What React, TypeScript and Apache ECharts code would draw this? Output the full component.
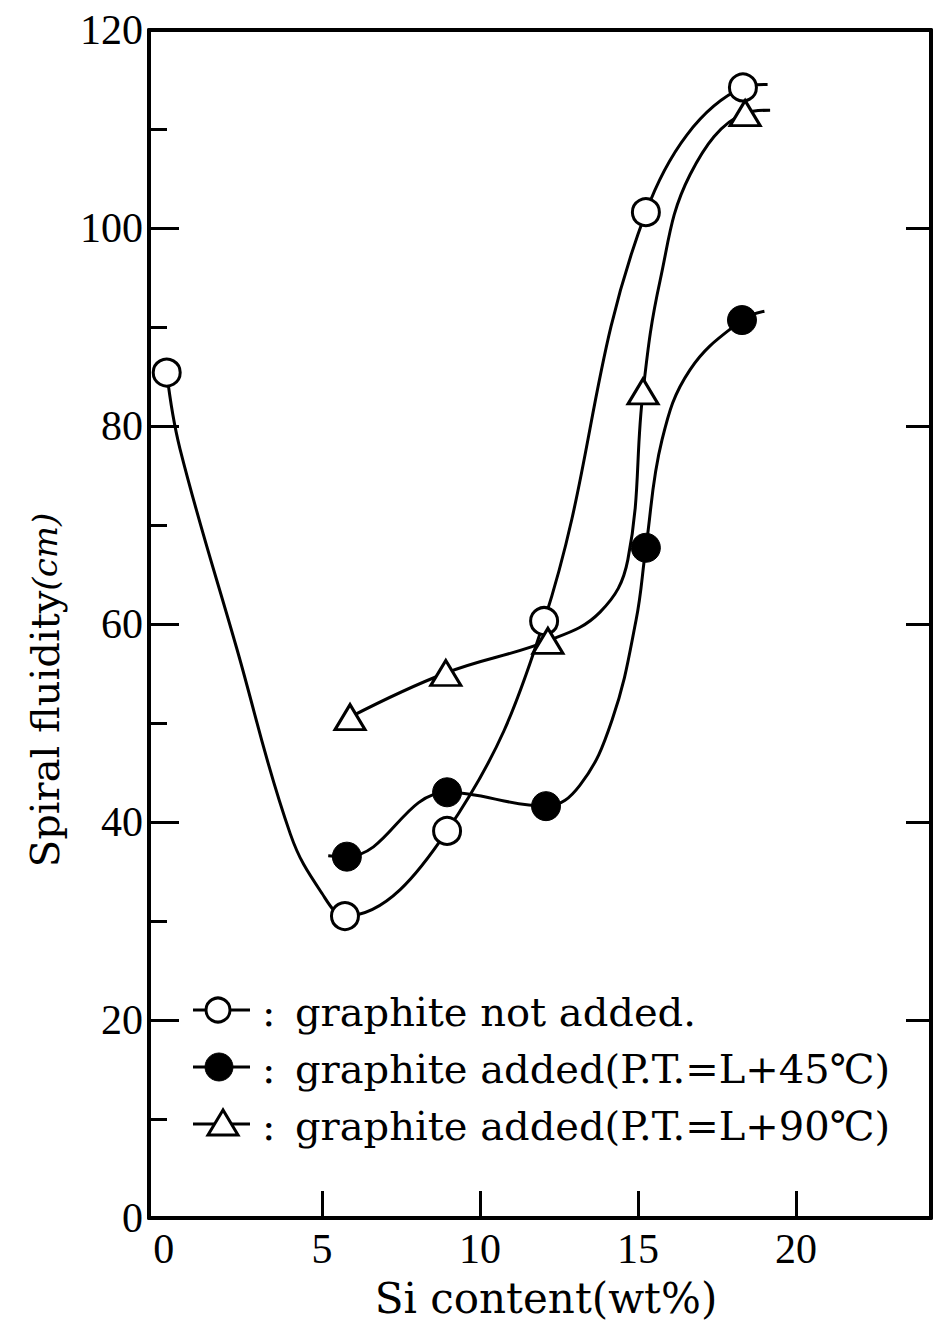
import React, { useEffect, useRef } from "react";
import * as echarts from "echarts";

// ---- data ----
// measured points (Si content wt%, spiral fluidity cm)
const openSi = [0.09, 5.73, 8.96, 12.03, 15.25, 18.32];
const openFluidity = [85.4, 30.5, 39.1, 60.3, 101.6, 114.2];
const filledSi = [5.79, 8.96, 12.09, 15.25, 18.29];
const filledFluidity = [36.5, 43.0, 41.6, 67.7, 90.7];
const triSi = [5.89, 8.92, 12.15, 15.16, 18.39];
const triFluidity = [50.6, 55.05, 58.3, 83.5, 111.6];

const openCurveSi = [0.09, 0.51, 2.3, 4.0, 5.0, 5.73, 8.96, 12.03, 15.25, 18.32, 19.1];
const openCurveFl = [85.4, 77.7, 57.6, 38.8, 32.8, 30.5, 39.1, 60.3, 101.6, 114.2, 114.5];
const filledCurveSi = [5.2, 5.79, 8.96, 12.09, 13.16, 14.18, 14.94, 15.25, 15.76, 16.65, 18.29, 19.0];
const filledCurveFl = [36.6, 36.5, 43.0, 41.6, 43.7, 50.3, 60.4, 67.7, 78.6, 85.7, 90.7, 91.6];
const triCurveSi = [5.89, 8.92, 12.15, 13.8, 14.68, 15.16, 15.7, 16.65, 18.39, 19.18];
const triCurveFl = [50.6, 55.05, 58.3, 61.2, 66.5, 83.5, 94.7, 105.4, 111.6, 111.9];

const xTickValues = [5, 10, 15, 20];
const xLabelValues = [0, 5, 10, 15, 20];

const legendLabels = [
  "graphite not added.",
  "graphite added(P.T.=L+45℃)",
  "graphite added(P.T.=L+90℃)",
];

const zip = (a: number[], b: number[]) => a.map((v, i) => [v, b[i]]);

const SERIF = "'Liberation Serif', 'Times New Roman', serif";
const TEXT_FONT = "'DejaVu Serif', 'Noto Sans CJK JP', serif";

export default function App() {
  const ref = useRef<HTMLDivElement>(null);

  useEffect(() => {
    document.body.style.margin = "0";
    if (!ref.current) return;
    const chart = echarts.init(ref.current, undefined, { renderer: "svg" });

    const legendRows = [1012, 1069, 1126];
    const legendGraphics: any[] = [];
    legendRows.forEach((y, i) => {
      legendGraphics.push({
        type: "line",
        shape: { x1: 193, y1: y - 2, x2: 250, y2: y - 2 },
        style: { stroke: "#000", lineWidth: 3 },
        z: 10,
      });
      if (i === 0) {
        legendGraphics.push({
          type: "circle",
          shape: { cx: 218, cy: y - 2, r: 12 },
          style: { fill: "#fff", stroke: "#000", lineWidth: 3 },
          z: 11,
        });
      } else if (i === 1) {
        legendGraphics.push({
          type: "circle",
          shape: { cx: 219, cy: y - 2, r: 14 },
          style: { fill: "#000", stroke: "#000", lineWidth: 1 },
          z: 11,
        });
      } else {
        legendGraphics.push({
          type: "polygon",
          shape: { points: [[223, y - 16], [208, y + 9], [238, y + 9]] },
          style: { fill: "#fff", stroke: "#000", lineWidth: 3 },
          z: 11,
        });
      }
      legendGraphics.push({
        type: "text",
        x: 262,
        y,
        style: {
          text: ":",
          fontSize: 40,
          fontFamily: TEXT_FONT,
          fill: "#000",
          textVerticalAlign: "middle",
          verticalAlign: "middle",
        },
        z: 11,
      });
      legendGraphics.push({
        type: "text",
        x: 295,
        y,
        style: {
          text: legendLabels[i],
          fontSize: 40,
          fontFamily: TEXT_FONT,
          fill: "#000",
          textVerticalAlign: "middle",
          verticalAlign: "middle",
        },
        z: 11,
      });
    });

    const curveStyle = { color: "#000", width: 3 };

    const option: any = {
      animation: false,
      backgroundColor: "#fff",
      grid: { left: 149, right: 6, top: 30, bottom: 104, containLabel: false },
      xAxis: [
        {
          type: "value",
          position: "bottom",
          min: -0.47,
          max: 24.27,
          axisLine: { show: true, onZero: false, lineStyle: { color: "#000", width: 4 } },
          axisTick: {
            show: true,
            inside: true,
            length: 27,
            customValues: xTickValues,
            lineStyle: { color: "#000", width: 3 },
          },
          axisLabel: {
            show: true,
            customValues: xLabelValues,
            fontFamily: SERIF,
            fontSize: 42,
            color: "#000",
            margin: 10,
          },
          splitLine: { show: false },
        },
        {
          type: "value",
          position: "top",
          min: -0.47,
          max: 24.27,
          axisLine: { show: true, onZero: false, lineStyle: { color: "#000", width: 4 } },
          axisTick: { show: false },
          axisLabel: { show: false },
          splitLine: { show: false },
        },
      ],
      yAxis: [
        {
          type: "value",
          position: "left",
          min: 0,
          max: 120,
          interval: 20,
          axisLine: { show: true, onZero: false, lineStyle: { color: "#000", width: 4 } },
          axisTick: {
            show: true,
            inside: true,
            length: 30,
            lineStyle: { color: "#000", width: 3 },
          },
          minorTick: {
            show: true,
            splitNumber: 2,
            length: 18,
            lineStyle: { color: "#000", width: 3 },
          },
          axisLabel: {
            fontFamily: SERIF,
            fontSize: 42,
            color: "#000",
            margin: 6,
          },
          splitLine: { show: false },
          minorSplitLine: { show: false },
        },
        {
          type: "value",
          position: "right",
          min: 0,
          max: 120,
          interval: 20,
          axisLine: { show: true, onZero: false, lineStyle: { color: "#000", width: 4 } },
          axisTick: {
            show: true,
            inside: true,
            length: 25,
            lineStyle: { color: "#000", width: 3 },
          },
          axisLabel: { show: false },
          splitLine: { show: false },
        },
      ],
      series: [
        {
          name: "curve-open",
          type: "line",
          data: zip(openCurveSi, openCurveFl),
          smooth: 0.4,
          symbol: "none",
          lineStyle: curveStyle,
          z: 2,
        },
        {
          name: "curve-filled",
          type: "line",
          data: zip(filledCurveSi, filledCurveFl),
          smooth: 0.4,
          symbol: "none",
          lineStyle: curveStyle,
          z: 2,
        },
        {
          name: "curve-tri",
          type: "line",
          data: zip(triCurveSi, triCurveFl),
          smooth: 0.4,
          symbol: "none",
          lineStyle: curveStyle,
          z: 2,
        },
        {
          name: legendLabels[0],
          type: "scatter",
          data: zip(openSi, openFluidity),
          symbol: "circle",
          symbolSize: 27,
          itemStyle: { color: "#fff", borderColor: "#000", borderWidth: 3, opacity: 1 },
          z: 5,
        },
        {
          name: legendLabels[1],
          type: "scatter",
          data: zip(filledSi, filledFluidity),
          symbol: "circle",
          symbolSize: 29,
          itemStyle: { color: "#000", borderColor: "#000", borderWidth: 1, opacity: 1 },
          z: 5,
        },
        {
          name: legendLabels[2],
          type: "scatter",
          data: zip(triSi, triFluidity),
          symbol: "triangle",
          symbolSize: [30, 25],
          itemStyle: { color: "#fff", borderColor: "#000", borderWidth: 3, opacity: 1 },
          z: 5,
        },
      ],
      graphic: [
        {
          type: "text",
          x: 546,
          y: 1298,
          style: {
            text: "Si content(wt%)",
            fontSize: 42,
            fontFamily: TEXT_FONT,
            fill: "#000",
            textAlign: "center",
            align: "center",
            textVerticalAlign: "middle",
            verticalAlign: "middle",
          },
        },
        {
          type: "text",
          x: 45,
          y: 690,
          rotation: Math.PI / 2,
          style: {
            text: "Spiral fluidity{u|(cm)}",
            fontSize: 40,
            fontFamily: TEXT_FONT,
            fill: "#000",
            textAlign: "center",
            align: "center",
            textVerticalAlign: "middle",
            verticalAlign: "middle",
            rich: {
              u: { fontStyle: "italic", fontSize: 34, fontFamily: TEXT_FONT, fill: "#000" },
            },
          },
        },
        ...legendGraphics,
      ],
    };

    chart.setOption(option);
    return () => {
      chart.dispose();
    };
  }, []);

  return <div ref={ref} style={{ width: 937, height: 1322 }} />;
}
